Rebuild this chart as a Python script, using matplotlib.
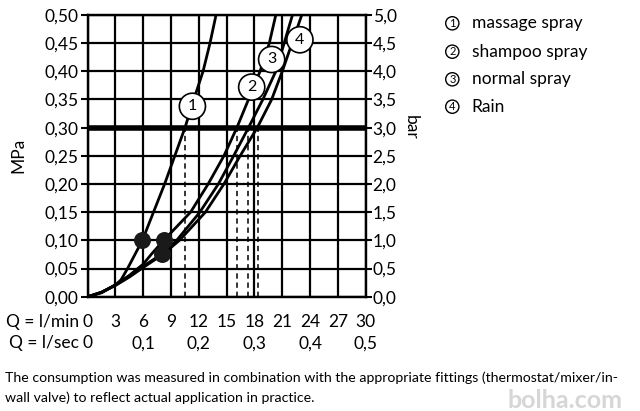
import numpy as np
import matplotlib
matplotlib.use('Agg')
import matplotlib.pyplot as plt
from matplotlib.transforms import blended_transform_factory

# Flow rate / pressure curves
massage_q = [0, 1.5, 3.0, 3.6, 4.3, 5.9, 7.1, 8.3, 9.4, 10.5, 11.45, 12.45, 13.2, 13.85]
massage_p = [0, 0.007, 0.021, 0.03, 0.05, 0.10, 0.15, 0.20, 0.25, 0.30, 0.35, 0.40, 0.45, 0.50]

shampoo_q = [0, 1.5, 3.0, 4.5, 6.0, 6.9, 8.2, 11.1, 13.0, 14.7, 16.1, 17.35, 18.6, 19.6, 20.3]
shampoo_p = [0, 0.008, 0.021, 0.038, 0.058, 0.076, 0.10, 0.15, 0.20, 0.25, 0.30, 0.35, 0.40, 0.45, 0.50]

normal_q = [0, 1.5, 3.0, 4.5, 6.0, 8.0, 9.6, 12.1, 14.1, 15.75, 17.35, 18.9, 20.3, 21.2, 22.1]
normal_p = [0, 0.008, 0.021, 0.036, 0.054, 0.076, 0.10, 0.15, 0.20, 0.25, 0.30, 0.35, 0.40, 0.45, 0.50]

rain_q = [0, 1.5, 3.0, 4.5, 6.0, 8.1, 9.9, 12.7, 14.7, 16.45, 18.3, 19.85, 21.0, 22.05, 23.1]
rain_p = [0, 0.008, 0.02, 0.035, 0.052, 0.075, 0.10, 0.15, 0.20, 0.25, 0.30, 0.35, 0.40, 0.45, 0.50]

# minimum flow pressure dots
dot_q = [5.9, 8.2, 8.0]
dot_p = [0.10, 0.10, 0.075]

# numbered curve labels
label_num = ['1', '2', '3', '4']
label_q = [11.3, 17.7, 19.85, 22.9]
label_p = [0.338, 0.372, 0.421, 0.456]

# rated pressure and flow at that pressure
rated_p = 0.30
q_at_rated = [10.55, 16.1, 17.35, 18.35]

legend_names = ['massage spray', 'shampoo spray', 'normal spray', 'Rain']

lmin_ticks = list(range(0, 31, 3))
lsec_ticks = [0, 6, 12, 18, 24, 30]
lsec_labels = ['0', '0,1', '0,2', '0,3', '0,4', '0,5']
mpa_ticks = [i * 0.05 for i in range(11)]
bar_ticks = [i * 0.5 for i in range(11)]

caption_lines = ['The consumption was measured in combination with the appropriate fittings (thermostat/mixer/in-',
                 'wall valve) to reflect actual application in practice.']

plt.rcParams['font.family'] = ['Lato', 'DejaVu Sans']
FS = 12.5

fig = plt.figure(figsize=(6.4, 4.11), dpi=100)
ax = fig.add_axes([0.137, 0.278, 0.4344, 0.6856])

ax.set_xlim(0, 30)
ax.set_ylim(0, 0.5)
ax.set_xticks(lmin_ticks)
ax.set_xticklabels([])
ax.tick_params(axis='x', length=0)
ax.set_yticks(mpa_ticks)
ax.set_yticklabels([('%.2f' % v).replace('.', ',') for v in mpa_ticks], fontsize=FS)
ax.tick_params(axis='y', length=5, width=1.5, pad=1.5)
ax.grid(True, color='black', lw=1.6)
ax.set_axisbelow(True)
for s in ax.spines.values():
    s.set_linewidth(1.6)
ax.set_ylabel('MPa', fontsize=FS)
ax.yaxis.set_label_coords(-0.219, 0.5)

# curves
for q, p in [(massage_q, massage_p), (shampoo_q, shampoo_p), (normal_q, normal_p), (rain_q, rain_p)]:
    ax.plot(q, p, color='black', lw=2.0, solid_joinstyle='round', zorder=3)

ax.axhline(rated_p, color='black', lw=4, zorder=4)
ax.vlines(q_at_rated, 0, rated_p, colors='black', lw=1.1, linestyles=(0, (3.5, 2.5)), zorder=2)

ax.scatter(dot_q, dot_p, s=125, color='#1a1a1a', zorder=5)

for n, q, p in zip(label_num, label_q, label_p):
    ax.text(q, p, n, ha='center', va='center', fontsize=11.5, zorder=6,
            bbox=dict(boxstyle='circle,pad=0.38', fc='white', ec='black', lw=1.2))

# right axis in bar
ax2 = ax.twinx()
ax2.set_ylim(0, 5)
ax2.set_yticks(bar_ticks)
ax2.set_yticklabels([('%.1f' % v).replace('.', ',') for v in bar_ticks], fontsize=FS)
ax2.tick_params(axis='y', length=4, width=1.5, pad=1)
for s in ax2.spines.values():
    s.set_linewidth(1.6)
ax2.set_ylabel('bar', fontsize=FS, rotation=270, va='center')
ax2.yaxis.set_label_coords(1.163, 0.6)

# flow rows under the axis
tr = blended_transform_factory(ax.transData, ax.transAxes)
for q in lmin_ticks:
    ax.text(q, -0.091, str(q), transform=tr, ha='center', va='center', fontsize=FS)
for q, lab in zip(lsec_ticks, lsec_labels):
    ax.text(q, -0.165, lab, transform=tr, ha='center', va='center', fontsize=FS)
ax.text(-0.03, -0.091, 'Q = l/min', transform=ax.transAxes, ha='right', va='center', fontsize=FS)
ax.text(-0.03, -0.165, 'Q = l/sec', transform=ax.transAxes, ha='right', va='center', fontsize=FS)

# legend
leg_y = [23.3, 51.7, 79.3, 106.7]
for n, name, y in zip(label_num, legend_names, leg_y):
    fig.text(452.3 / 640, 1 - y / 411, n, ha='center', va='center', fontsize=8,
             bbox=dict(boxstyle='circle,pad=0.1', fc='white', ec='black', lw=1.0))
    fig.text(471.7 / 640, 1 - y / 411, name, ha='left', va='center', fontsize=FS)

fig.text(565 / 640, 1 - 400 / 411, 'bolha.com', ha='center', va='center', fontsize=18,
         fontweight='bold', color='#d6d6d6', zorder=0)

for line, y in zip(caption_lines, [377.5, 398]):
    fig.text(5 / 640, 1 - y / 411, line, ha='left', va='center', fontsize=10.2, zorder=2)

fig.savefig('out.png', dpi=100)
